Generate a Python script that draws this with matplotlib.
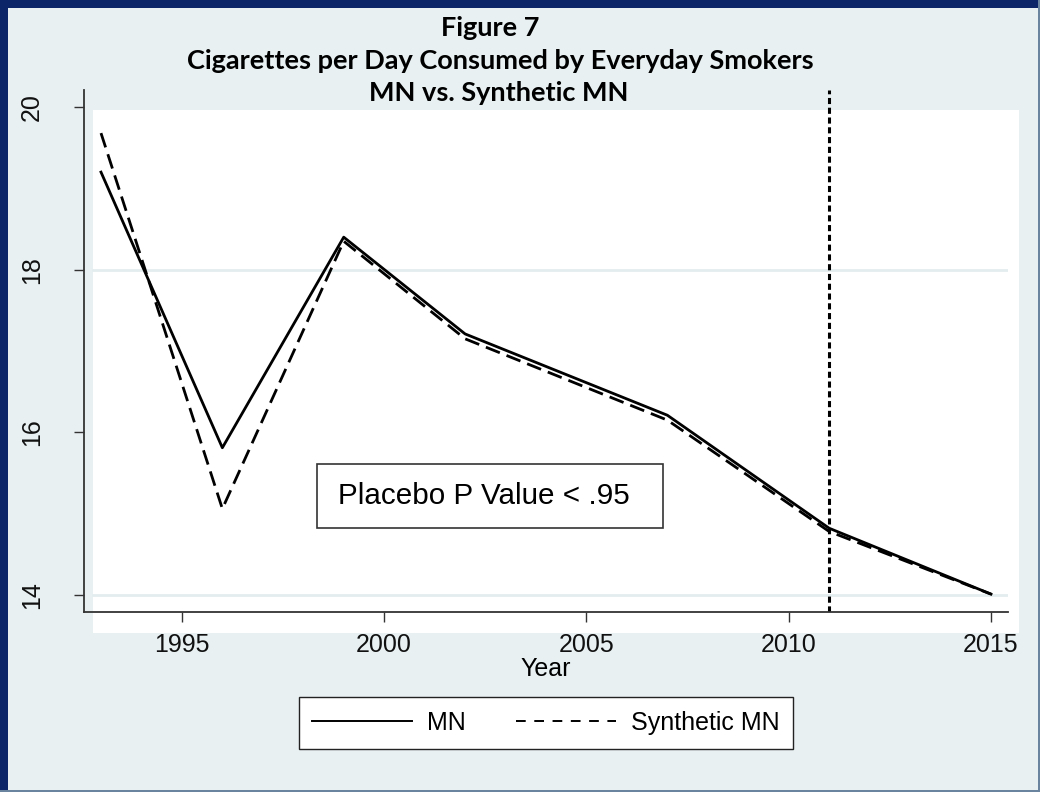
import matplotlib
matplotlib.use("Agg")
import matplotlib.pyplot as plt
from matplotlib.patches import Rectangle
from matplotlib.lines import Line2D

# data
years = [1993, 1996, 1999, 2002, 2007, 2011, 2015]
mn = [19.2, 15.81, 18.40, 17.21, 16.21, 14.82, 14.01]
synthetic_mn = [19.68, 15.06, 18.35, 17.15, 16.15, 14.78, 14.01]
treat_year = 2011
x_ticks = [1995, 2000, 2005, 2010, 2015]
y_ticks = [14, 16, 18, 20]
grid_levels = [14, 18]
title_lines = ["Figure 7", "Cigarettes per Day Consumed by Everyday Smokers", "MN vs. Synthetic MN"]
note = "Placebo P Value < .95"

W, H = 1040, 792
bg = "#e8f0f2"
navy = "#0b2568"

fig = plt.figure(figsize=(W / 100, H / 100), dpi=100, facecolor=bg)

def px(x, y, w, h):
    # pixel box (top-left origin) -> figure fraction
    return (x / W, 1 - (y + h) / H, w / W, h / H)

# white plot region (behind the axes)
l, b, w, h = px(93, 110, 926, 523)
fig.patches.append(Rectangle((l, b), w, h, transform=fig.transFigure,
                             facecolor="white", edgecolor="none", zorder=-5))

ax = fig.add_axes(px(84, 90, 924, 522))
ax.set_zorder(1)
ax.set_facecolor("none")
ax.set_xlim(1992.58, 2015.42)
ax.set_ylim(13.79, 20.21)

for g in grid_levels:
    ax.axhline(g, xmin=0.01, xmax=1, color="#e3edef", lw=2, zorder=1)

ax.plot(years, mn, color="black", lw=2.0, zorder=3, label="MN")
ax.plot(years, synthetic_mn, color="black", lw=2.0, dashes=(5.4, 2.6), zorder=3,
        label="Synthetic MN")
ax.axvline(treat_year, color="black", lw=2.2, dashes=(2, 1.2), zorder=2)

for s in ["top", "right"]:
    ax.spines[s].set_visible(False)
for s in ["left", "bottom"]:
    ax.spines[s].set_color("#333333")
    ax.spines[s].set_linewidth(1.3)

ax.set_xticks(x_ticks)
ax.set_yticks(y_ticks)
ax.tick_params(axis="both", length=7, width=1, color="#333333",
               labelsize=18, labelcolor="#111111")
ax.tick_params(axis="x", pad=8)
ax.tick_params(axis="y", pad=22)
for lab in ax.get_yticklabels():
    lab.set_rotation(90)
    lab.set_va("center")
for lab in ax.get_xticklabels() + ax.get_yticklabels():
    lab.set_fontfamily("Liberation Sans")

ax.set_xlabel("Year", fontsize=18, family="Liberation Sans", labelpad=0)

# note box
bl, bb, bw, bh = px(317, 464, 346, 64)
fig.patches.append(Rectangle((bl, bb), bw, bh, transform=fig.transFigure,
                             facecolor="white", edgecolor="#333333", lw=1.2,
                             zorder=2))
fig.text(338 / W, 1 - 496 / H, note, fontsize=21.3, family="Liberation Sans",
         va="center", ha="left", zorder=3)

# legend
handles = [Line2D([], [], color="black", lw=1.4),
           Line2D([], [], color="black", lw=1.4, dashes=(5, 4.4))]
leg = fig.legend(handles, ["MN", "Synthetic MN"], loc="center",
                 bbox_to_anchor=(546 / W, 1 - 723 / H), ncol=2,
                 frameon=True, fancybox=False, edgecolor="#222222",
                 framealpha=1, facecolor="white",
                 prop={"family": "Liberation Sans", "size": 18},
                 handlelength=4, columnspacing=2.0, handletextpad=0.6,
                 borderpad=0.55, borderaxespad=0)
leg.get_frame().set_linewidth(1)

# titles
title_y = [28, 61, 93]
title_x = [490, 500, 499]
for t, tx, ty in zip(title_lines, title_x, title_y):
    fig.text(tx / W, 1 - ty / H, t, ha="center", va="center",
             fontsize=19.5, fontweight="bold", family="Lato")

# outer frame: heavy navy top/left, thin right/bottom
fig.patches.append(Rectangle((0, 1 - 8 / H), 1, 8 / H, transform=fig.transFigure,
                             facecolor=navy, edgecolor="none", zorder=5))
fig.patches.append(Rectangle((0, 0), 8 / W, 1, transform=fig.transFigure,
                             facecolor=navy, edgecolor="none", zorder=5))
fig.patches.append(Rectangle((0, 0), 1, 2 / H, transform=fig.transFigure,
                             facecolor="#6a84a0", edgecolor="none", zorder=5))
fig.patches.append(Rectangle((1 - 2 / W, 0), 2 / W, 1, transform=fig.transFigure,
                             facecolor="#6a84a0", edgecolor="none", zorder=5))

fig.savefig("out.png", dpi=100, facecolor=bg)
